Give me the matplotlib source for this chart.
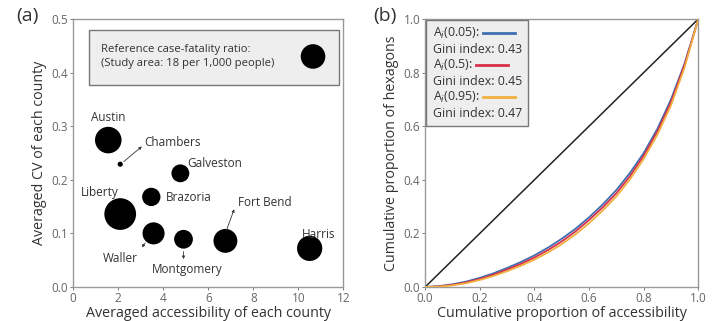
import matplotlib
matplotlib.use("Agg")
import matplotlib.pyplot as plt
from matplotlib.patches import Rectangle
from matplotlib.lines import Line2D

plt.rcParams['font.family'] = ['Open Sans', 'DejaVu Sans']

# ---------------- data: panel (a) ----------------
counties = ["Austin", "Chambers", "Galveston", "Brazoria", "Liberty",
            "Waller", "Montgomery", "Fort Bend", "Harris"]
accessibility = [1.56, 2.09, 4.76, 3.47, 2.09, 3.57, 4.9, 6.76, 10.5]
cv = [0.274, 0.229, 0.212, 0.168, 0.136, 0.100, 0.089, 0.086, 0.072]
fatality = [21, 0.8, 9.5, 10, 30, 14.5, 10.5, 17, 19]   # per 1,000 people
ref_fatality = 18
ref_point = (10.65, 0.43)

# ---------------- data: panel (b) ----------------
lorenz_x = [0.0, 0.05, 0.1, 0.15, 0.2, 0.25, 0.3, 0.35, 0.4, 0.45, 0.5,
            0.55, 0.6, 0.65, 0.7, 0.75, 0.8, 0.85, 0.9, 0.95, 1.0]
lorenz_005 = [0, 0.003, 0.010, 0.020, 0.034, 0.051, 0.071, 0.093, 0.118, 0.147, 0.18,
              0.217, 0.26, 0.308, 0.362, 0.426, 0.50, 0.59, 0.70, 0.835, 1.0]
lorenz_05 = [0, 0.002, 0.008, 0.017, 0.030, 0.046, 0.065, 0.086, 0.110, 0.138, 0.17,
             0.207, 0.25, 0.297, 0.350, 0.414, 0.49, 0.58, 0.69, 0.830, 1.0]
lorenz_095 = [0, 0.001, 0.006, 0.014, 0.026, 0.041, 0.059, 0.079, 0.102, 0.129, 0.16,
              0.196, 0.238, 0.285, 0.338, 0.402, 0.478, 0.568, 0.678, 0.82, 1.0]
series_labels = ["A$_i$(0.05):", "A$_i$(0.5):", "A$_i$(0.95):"]
gini = [0.43, 0.45, 0.47]
series_colors = ["#3f6fb0", "#d8304a", "#f0b040"]

SIZE_K = 17.4
TXT = "#333333"
TICK = "#666666"
SPINE = "#999999"

fig = plt.figure(figsize=(7.17, 3.21), dpi=100)
ax1 = fig.add_axes([0.102, 0.106, 0.377, 0.835])
ax2 = fig.add_axes([0.593, 0.106, 0.381, 0.835])

for ax in (ax1, ax2):
    for sp in ax.spines.values():
        sp.set_color(SPINE)
        sp.set_linewidth(1.0)
    ax.tick_params(colors=TICK, labelsize=8.5, length=2, width=0.6, pad=1.5)

# ---------------- panel (a) ----------------
ax1.scatter(accessibility, cv, s=[f * SIZE_K for f in fatality], color="black",
            edgecolors="none", zorder=3)
ax1.set_xlim(0, 12)
ax1.set_ylim(0, 0.5)
ax1.set_xticks([0, 2, 4, 6, 8, 10, 12])
ax1.set_yticks([0.0, 0.1, 0.2, 0.3, 0.4, 0.5])
ax1.set_xticklabels(["0", "2", "4", "6", "8", "10", "12"])
ax1.set_yticklabels(["0.0", "0.1", "0.2", "0.3", "0.4", "0.5"])
ax1.set_xlabel("Averaged accessibility of each county", fontsize=10.3, color=TXT, labelpad=1)
ax1.set_ylabel("Averaged CV of each county", fontsize=10.3, color=TXT, labelpad=3)

# reference box
ax1.add_patch(Rectangle((0.058, 0.755), 0.925, 0.205, transform=ax1.transAxes,
                        facecolor="#eeeeee", edgecolor="#777777", lw=1.0, zorder=1))
ax1.text(1.25, 0.43, "Reference case-fatality ratio:\n(Study area: 18 per 1,000 people)",
         fontsize=8.1, color=TXT, va="center", ha="left", zorder=2, linespacing=1.3)
ax1.scatter([ref_point[0]], [ref_point[1]], s=[ref_fatality * SIZE_K], color="black",
            edgecolors="none", zorder=3)

lbl = dict(fontsize=8.5, color=TXT)
ax1.text(1.56, 0.317, "Austin", ha="center", va="center", **lbl)
ax1.text(3.16, 0.270, "Chambers", ha="left", va="center", **lbl)
ax1.text(5.05, 0.231, "Galveston", ha="left", va="center", **lbl)
ax1.text(1.2, 0.176, "Liberty", ha="center", va="center", **lbl)
ax1.text(4.13, 0.166, "Brazoria", ha="left", va="center", **lbl)
ax1.text(7.3, 0.158, "Fort Bend", ha="left", va="center", **lbl)
ax1.text(10.9, 0.097, "Harris", ha="center", va="center", **lbl)
ax1.text(2.1, 0.054, "Waller", ha="center", va="center", **lbl)
ax1.text(5.05, 0.033, "Montgomery", ha="center", va="center", **lbl)

arrow = dict(arrowstyle="-|>", lw=0.6, color="#333333", mutation_scale=4,
             shrinkA=0, shrinkB=0)
ax1.annotate("", xy=(3.05, 0.262), xytext=(2.25, 0.234), arrowprops=arrow)
ax1.annotate("", xy=(7.15, 0.145), xytext=(6.8, 0.105), arrowprops=arrow)
ax1.annotate("", xy=(3.05, 0.074), xytext=(3.2, 0.082), arrowprops=arrow)
ax1.annotate("", xy=(4.9, 0.052), xytext=(4.9, 0.066), arrowprops=arrow)

fig.text(0.022, 0.95, "(a)", fontsize=14, color=TXT, va="center", ha="left")

# ---------------- panel (b) ----------------
ax2.plot([0, 1], [0, 1], color="#222222", lw=1.1, zorder=2)
series = [lorenz_005, lorenz_05, lorenz_095]
lines = []
for ys, c in zip(series, series_colors):
    ln, = ax2.plot(lorenz_x, ys, color=c, lw=1.3, zorder=3)
    lines.append(ln)
ax2.set_xlim(0, 1)
ax2.set_ylim(0, 1)
ticks = [0.0, 0.2, 0.4, 0.6, 0.8, 1.0]
ax2.set_xticks(ticks)
ax2.set_yticks(ticks)
ax2.set_xticklabels([f"{t:.1f}" for t in ticks])
ax2.set_yticklabels([f"{t:.1f}" for t in ticks])
ax2.set_xlabel("Cumulative proportion of accessibility", fontsize=10.3, color=TXT, labelpad=1)
ax2.set_ylabel("Cumulative proportion of hexagons", fontsize=10.3, color=TXT, labelpad=3)

handles, labels = [], []
blank = Line2D([], [], color="none")
for ln, lab, g in zip(lines, series_labels, gini):
    proxy = Line2D([], [], color=ln.get_color(), lw=2.0)
    handles += [proxy, blank]
    labels += [lab, f"Gini index: {g:.2f}"]
leg = ax2.legend(handles, labels, loc="upper left", markerfirst=False, fontsize=8.9,
                 handlelength=2.6, handletextpad=0.3, labelspacing=0.15,
                 borderpad=0.5, borderaxespad=0.1, fancybox=False, framealpha=1,
                 facecolor="#eeeeee", edgecolor="#777777", labelcolor=TXT)
leg.get_frame().set_linewidth(1.0)
for col in leg._legend_handle_box.get_children():
    col.align = "left"
    rows = col.get_children()
    for i, row in enumerate(rows):
        if i % 2 == 1:
            row._children = row._children[:1]

fig.text(0.521, 0.95, "(b)", fontsize=14, color=TXT, va="center", ha="left")

fig.savefig("out.png", dpi=100)
